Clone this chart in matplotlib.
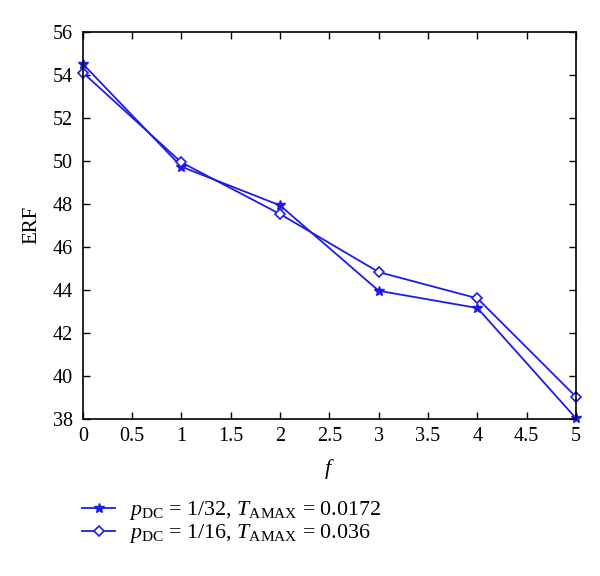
import numpy as np
import matplotlib
matplotlib.use('Agg')
import matplotlib.pyplot as plt

plt.rcParams['font.family'] = ['Liberation Serif', 'DejaVu Serif']
plt.rcParams['mathtext.fontset'] = 'custom'
plt.rcParams['mathtext.rm'] = 'Liberation Serif'
plt.rcParams['mathtext.it'] = 'Liberation Serif:italic'

f_vals = [0, 1, 2, 3, 4, 5]
erf_32 = [54.5, 49.72, 47.92, 43.95, 43.15, 38.02]
erf_16 = [54.1, 49.92, 47.52, 44.82, 43.6, 39.02]
labels = [r'$p_{\mathrm{DC}}$ = 1/32, $T_{\mathrm{AMAX}}$ = 0.0172',
          r'$p_{\mathrm{DC}}$ = 1/16, $T_{\mathrm{AMAX}}$ = 0.036']

fig = plt.figure(figsize=(6, 5.76), dpi=100)
ax = fig.add_axes([0.138, 0.273, 0.822, 0.672])
color = '#1c1ce6'
l1, = ax.plot(f_vals, erf_32, color=color, lw=1.3, marker='*', ms=7,
              mfc=color, mec=color, label=labels[0], clip_on=False)
l2, = ax.plot(f_vals, erf_16, color=color, lw=1.3, marker='D', ms=5,
              mfc='white', mec=color, mew=1.2, label=labels[1], clip_on=False)

ax.set_xlim(0, 5)
ax.set_ylim(38, 56)
ax.set_xticks(np.arange(0, 5.01, 0.5))
ax.set_xticklabels(['0', '0.5', '1', '1.5', '2', '2.5', '3', '3.5', '4', '4.5', '5'])
ax.set_yticks(np.arange(38, 56.1, 2))
ax.tick_params(direction='in', top=True, right=True, labelsize=14.5, length=5, width=1)
ax.tick_params(axis='x', pad=6)
ax.tick_params(axis='y', pad=7)
for s in ax.spines.values():
    s.set_linewidth(1.2)
ax.set_xlabel('$f$', fontsize=16, labelpad=8)
ax.set_ylabel('ERF', fontsize=15, labelpad=8)

fig.legend(handles=[l1, l2], loc='upper left', bbox_to_anchor=(0.137, 0.133),
           frameon=False, fontsize=15.8, handlelength=1.5, handletextpad=0.65,
           labelspacing=0.0, borderpad=0, borderaxespad=0)
fig.savefig('out.png', dpi=100, facecolor='white')
